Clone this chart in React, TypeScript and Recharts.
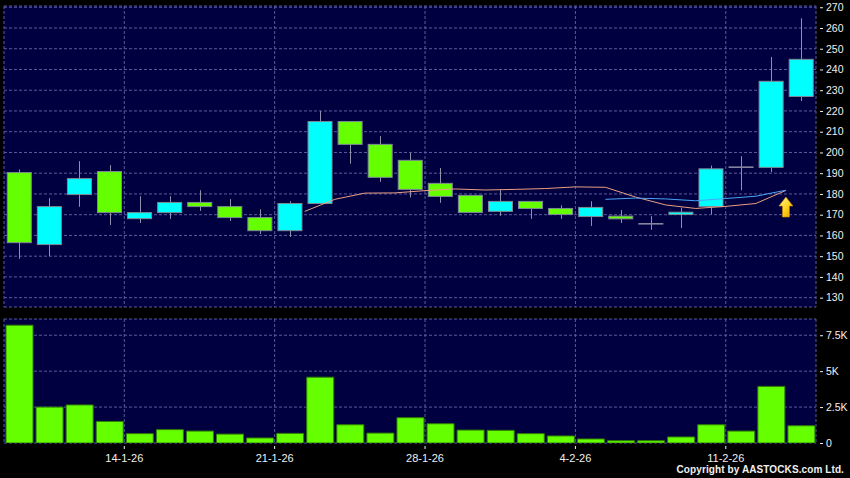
import React from 'react'
import {
  Bar,
  CartesianGrid,
  ComposedChart,
  Line,
  ReferenceDot,
  XAxis,
  YAxis,
} from 'recharts'

// trading days shown on the chart
const dates = [
  '8-1-26', '9-1-26', '12-1-26', '13-1-26', '14-1-26', '15-1-26', '16-1-26',
  '19-1-26', '20-1-26', '21-1-26', '22-1-26', '23-1-26', '26-1-26', '27-1-26',
  '28-1-26', '29-1-26', '30-1-26', '2-2-26', '3-2-26', '4-2-26', '5-2-26',
  '6-2-26', '9-2-26', '10-2-26', '11-2-26', '12-2-26', '13-2-26',
]

const opens = [
  190.3, 155.6, 179.7, 190.8, 168.1, 171.0, 175.9, 173.9, 168.6, 162.3, 175.4,
  214.9, 203.9, 196.2, 185.1, 179.3, 171.6, 176.4, 173.0, 169.1, 169.3, 165.6,
  170.1, 173.9, 192.9, 192.8, 227.0,
]
const highs = [
  191.8, 178.0, 195.8, 193.9, 178.9, 178.9, 181.8, 177.5, 172.6, 176.5, 220.0,
  215.0, 207.9, 199.9, 192.5, 179.3, 182.2, 176.4, 174.5, 176.5, 172.2, 169.3,
  173.4, 193.7, 198.2, 246.0, 264.7,
]
const lows = [
  148.7, 150.0, 173.8, 165.0, 166.0, 168.0, 171.8, 167.0, 160.7, 159.3, 175.2,
  194.6, 185.9, 178.3, 175.7, 171.1, 169.5, 168.0, 168.0, 164.6, 166.0, 162.7,
  163.6, 170.2, 181.8, 190.5, 224.8,
]
const closes = [
  156.5, 173.9, 187.4, 171.0, 171.0, 175.9, 173.9, 168.6, 162.3, 175.4, 214.9,
  203.9, 188.0, 182.2, 178.8, 171.1, 176.4, 173.0, 170.1, 173.5, 168.0, 165.6,
  171.2, 192.1, 192.9, 234.3, 244.9,
]
const volumes = [
  8200, 2500, 2650, 1500, 650, 930, 830, 620, 350, 670, 4580, 1270, 690, 1760,
  1340, 900, 880, 650, 490, 280, 160, 160, 420, 1270, 830, 3940, 1200,
]

// moving averages, first value belongs to the given day
const ma10Start = 9
const ma10 = [
  171.6, 177.4, 180.4, 180.5, 181.6, 182.4, 181.9, 182.2, 182.6, 183.4, 183.2,
  178.5, 174.7, 173.0, 174.0, 175.4, 181.7,
]
const ma20Start = 19
const ma20 = [177.4, 178.0, 177.6, 176.7, 177.8, 178.9, 181.8]

const weekLabels = ['14-1-26', '21-1-26', '28-1-26', '4-2-26', '11-2-26']
const priceTicks = [130, 140, 150, 160, 170, 180, 190, 200, 210, 220, 230, 240, 250, 260, 270]
const volumeTicks = [0, 2500, 5000, 7500]
const volumeTickLabels = ['0', '2.5K', '5K', '7.5K']

const signalDay = 25
const signalPrice = 173.7

const candles = dates.map((d, i) => ({
  i,
  date: d,
  open: opens[i],
  high: highs[i],
  low: lows[i],
  close: closes[i],
  vol: volumes[i],
}))

// MA points sit on the right edge of their day
const ma10Data = ma10.map((v, k) => ({ i: ma10Start + k + 0.5, v }))
const ma20Data = ma20.map((v, k) => ({ i: ma20Start + k + 0.5, v }))

const weekTicks = weekLabels.map(l => dates.indexOf(l) - 0.5)

const FONT = '"Liberation Sans", Arial, sans-serif'
const BG = '#000040'
const GRID = '#5a5a9e'
const UP = '#00ffff'
const DOWN = '#66ff00'
const WICK = '#9090aa'
const EDGE = '#7c8a94'
const TEXT = '#f0f0f0'
const xDomain = [-0.5, dates.length - 0.5]

const Candle = (props: any) => {
  const { x, y, width, height, payload } = props
  const { open, close, high, low } = payload
  const k = high > low ? height / (high - low) : 0
  const cx = Math.round(x + width / 2) + 0.5
  const top = y + (high - Math.max(open, close)) * k
  const bottom = y + (high - Math.min(open, close)) * k
  const bw = 25
  const bx = x + (width - bw) / 2
  return (
    <g>
      <line x1={cx} x2={cx} y1={y} y2={y + height} stroke={WICK} strokeWidth={1} />
      {open === close ? (
        <line x1={bx} x2={bx + bw} y1={top} y2={top} stroke='#84849c' strokeWidth={1.6} />
      ) : (
        <rect
          x={bx + 0.5}
          y={top}
          width={bw - 1}
          height={Math.max(bottom - top, 1.5)}
          fill={close > open ? UP : DOWN}
          stroke={EDGE}
          strokeWidth={1}
        />
      )}
    </g>
  )
}

const Arrow = (props: any) => {
  const { cx, cy } = props
  const pts = [
    [cx, cy - 10],
    [cx + 7, cy - 1],
    [cx + 3.5, cy - 1],
    [cx + 3.5, cy + 10],
    [cx - 3.5, cy + 10],
    [cx - 3.5, cy - 1],
    [cx - 7, cy - 1],
  ]
  return (
    <g>
      <defs>
        <linearGradient id='arrowFill' x1='0' y1='0' x2='1' y2='1'>
          <stop offset='0%' stopColor='#fff59a' />
          <stop offset='55%' stopColor='#ffd21a' />
          <stop offset='100%' stopColor='#e59a00' />
        </linearGradient>
      </defs>
      <polygon
        points={pts.map(p => p.join(',')).join(' ')}
        fill='url(#arrowFill)'
        stroke='#c98a00'
        strokeWidth={0.6}
      />
    </g>
  )
}

const RightTick = (props: any) => {
  const { x, y, payload, labels, ticks } = props
  const text = labels ? labels[ticks.indexOf(payload.value)] : String(payload.value)
  return (
    <g>
      <line x1={x + 4} x2={x + 7} y1={y + 0.5} y2={y + 0.5} stroke={TEXT} strokeWidth={1} />
      <text
        x={x + 10}
        y={y}
        dy='0.36em'
        fill={TEXT}
        fontSize={10.5}
        fontFamily={FONT}
        textAnchor='start'
      >
        {text}
      </text>
    </g>
  )
}

const DateTick = (props: any) => {
  const { x, y, payload } = props
  const label = weekLabels[weekTicks.indexOf(payload.value)]
  return (
    <g>
      <line x1={x} x2={x} y1={y + 3} y2={y + 6} stroke={TEXT} strokeWidth={1} />
      <text
        x={x}
        y={y + 18.5}
        fill={TEXT}
        fontSize={11}
        fontFamily={FONT}
        textAnchor='middle'
      >
        {label}
      </text>
    </g>
  )
}

export default function App() {
  return (
    <div
      style={{
        position: 'absolute',
        left: 0,
        top: 0,
        width: 850,
        height: 478,
        background: '#000',
        overflow: 'hidden',
      }}
    >
      <ComposedChart
        width={850}
        height={310}
        data={candles}
        margin={{ top: 6, right: 0, bottom: 3, left: 4 }}
      >
        <CartesianGrid stroke={GRID} strokeDasharray='3 2' fill={BG} fillOpacity={1} />
        <XAxis
          type='number'
          dataKey='i'
          domain={xDomain}
          ticks={weekTicks}
          allowDataOverflow
          hide
        />
        <YAxis
          orientation='right'
          width={34}
          domain={[125.5, 270.6]}
          ticks={priceTicks}
          allowDataOverflow
          interval={0}
          axisLine={false}
          tickLine={false}
          tickSize={0}
          tickMargin={0}
          tick={<RightTick />}
        />
        <Bar
          dataKey={(d: any) => [d.low, d.high]}
          barSize={27}
          shape={<Candle />}
          isAnimationActive={false}
        />
        <Line
          data={ma10Data}
          dataKey='v'
          stroke='#eaa083'
          strokeWidth={1}
          dot={false}
          activeDot={false}
          isAnimationActive={false}
        />
        <Line
          data={ma20Data}
          dataKey='v'
          stroke='#4aa3f5'
          strokeWidth={1}
          dot={false}
          activeDot={false}
          isAnimationActive={false}
        />
        <ReferenceDot
          x={signalDay + 0.5}
          y={signalPrice}
          r={10}
          shape={<Arrow />}
          ifOverflow='visible'
        />
      </ComposedChart>
      <ComposedChart
        width={850}
        height={168}
        data={candles}
        margin={{ top: 9, right: 0, bottom: 15, left: 4 }}
      >
        <CartesianGrid stroke={GRID} strokeDasharray='3 2' fill={BG} fillOpacity={1} />
        <XAxis
          type='number'
          dataKey='i'
          domain={xDomain}
          ticks={weekTicks}
          allowDataOverflow
          interval={0}
          height={20}
          axisLine={false}
          tickLine={false}
          tickSize={0}
          tickMargin={0}
          tick={<DateTick />}
        />
        <YAxis
          orientation='right'
          width={34}
          domain={[0, 8630]}
          ticks={volumeTicks}
          allowDataOverflow
          interval={0}
          axisLine={false}
          tickLine={false}
          tickSize={0}
          tickMargin={0}
          tick={<RightTick labels={volumeTickLabels} ticks={volumeTicks} />}
        />
        <Bar
          dataKey='vol'
          barSize={27}
          fill={DOWN}
          stroke='#2f7d00'
          strokeWidth={1}
          isAnimationActive={false}
        />
      </ComposedChart>
      <div
        style={{
          position: 'absolute',
          right: 6,
          top: 464,
          fontFamily: FONT,
          fontSize: 10,
          fontWeight: 'bold',
          letterSpacing: 0.1,
          lineHeight: '12px',
          color: TEXT,
          whiteSpace: 'nowrap',
        }}
      >
        Copyright by AASTOCKS.com Ltd.
      </div>
    </div>
  )
}
